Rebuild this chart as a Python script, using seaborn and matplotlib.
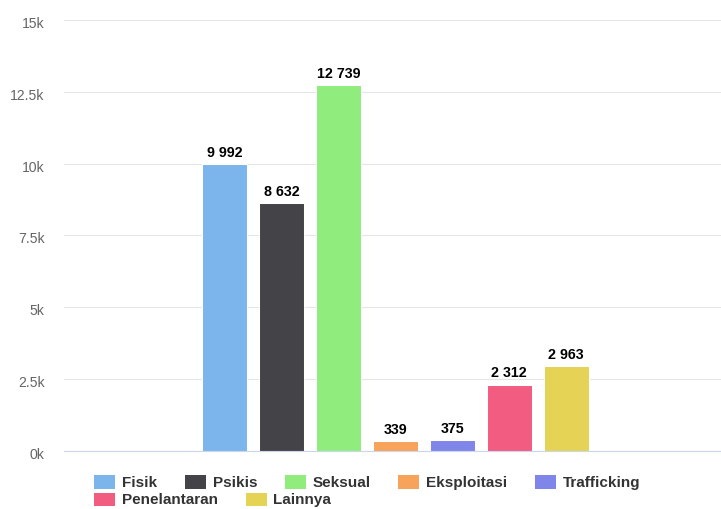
import matplotlib
matplotlib.use("Agg")
import matplotlib.pyplot as plt
import matplotlib.transforms as mtransforms
from matplotlib.patches import Patch
import seaborn as sns
import pandas as pd

# ---- data ----
jenis = ["Fisik", "Psikis", "Seksual", "Eksploitasi", "Trafficking", "Penelantaran", "Lainnya"]
jumlah = [9992, 8632, 12739, 339, 375, 2312, 2963]
warna = ["#7cb5ec", "#434348", "#90ed7d", "#f7a35c", "#8085e9", "#f15c80", "#e4d354"]
ytick_values = [0, 2500, 5000, 7500, 10000, 12500, 15000]
ytick_labels = ["0k", "2.5k", "5k", "7.5k", "10k", "12.5k", "15k"]
legend_row1 = ["Fisik", "Psikis", "Seksual", "Eksploitasi", "Trafficking"]
legend_row2 = ["Penelantaran", "Lainnya"]

df = pd.DataFrame({"grup": [""] * len(jenis), "jenis": jenis, "jumlah": jumlah})

sns.set_style("white")
plt.rcParams["font.family"] = ["Liberation Sans", "DejaVu Sans"]

W, H = 721, 509
fig = plt.figure(figsize=(W / 100, H / 100), dpi=100)
ax = fig.add_axes([64 / W, 1 - 451 / H, 657 / W, 431 / H])

sns.barplot(data=df, x="grup", y="jumlah", hue="jenis", hue_order=jenis,
            palette=dict(zip(jenis, warna)), saturation=1, width=0.606, gap=0.209,
            edgecolor="white", linewidth=0.75, legend=False, ax=ax,
            errorbar=None)

xl = (-(395.5 - 64) / 657, (721 - 395.5) / 657)
ax.set_xlim(*xl)
ax.set_ylim(0, 15000)

for cont, v in zip(ax.containers, jumlah):
    ax.bar_label(cont, labels=[f"{v:,}".replace(",", " ")], padding=3,
                 fontsize=10.3, fontweight="bold", color="black")

ax.set_yticks(ytick_values)
ax.set_yticklabels(ytick_labels, fontsize=10.1, color="#666666")
ax.tick_params(axis="y", length=0, pad=14)
shift = mtransforms.ScaledTranslation(0, -2.5 / 100, fig.dpi_scale_trans)
for lab in ax.get_yticklabels():
    lab.set_transform(lab.get_transform() + shift)
ax.yaxis.grid(True, color="#e6e6e6", linewidth=0.8)
ax.set_axisbelow(True)

ax.set_xticks([xl[0], xl[1]])
ax.set_xticklabels(["", ""])
ax.tick_params(axis="x", length=8.6, width=0.8, color="#ccd6eb", direction="out")
ax.set_xlabel("")
ax.set_ylabel("")

for s in ["top", "right", "left"]:
    ax.spines[s].set_visible(False)
ax.spines["bottom"].set_color("#ccd6eb")
ax.spines["bottom"].set_linewidth(0.8)

color_of = dict(zip(jenis, warna))
def handle(j):
    return Patch(facecolor=color_of[j], edgecolor="none", linewidth=0)

fs = 11
fpx = fs * 100 / 72
common = dict(frameon=False, borderpad=0, borderaxespad=0,
              handlelength=21 / fpx, handleheight=15 / fpx,
              handletextpad=7 / fpx, columnspacing=27.5 / fpx,
              prop={"size": fs, "weight": "bold"}, labelcolor="#333333",
              loc="center left")
leg1 = fig.legend([handle(j) for j in legend_row1], legend_row1,
                  ncol=len(legend_row1), bbox_to_anchor=(94 / W, 1 - 482.5 / H), **common)
leg2 = fig.legend([handle(j) for j in legend_row2], legend_row2,
                  ncol=len(legend_row2), bbox_to_anchor=(94 / W, 1 - 500 / H), **common)

fig.savefig("out.png", dpi=100)
